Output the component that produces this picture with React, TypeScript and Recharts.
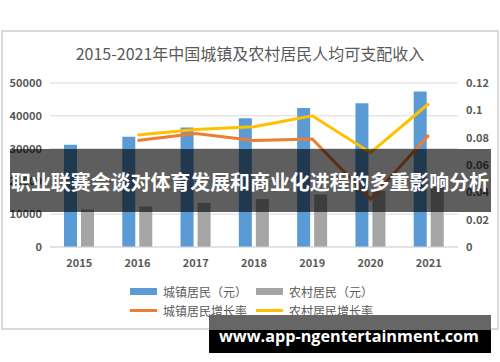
import {
    ComposedChart,
    Bar,
    Line,
    XAxis,
    YAxis,
    CartesianGrid,
} from "recharts";

const years = ["2015", "2016", "2017", "2018", "2019", "2020", "2021"];
const urbanIncome = [31195, 33616, 36396, 39251, 42359, 43834, 47412];
const ruralIncome = [11422, 12363, 13432, 14617, 16021, 17131, 18931];
const urbanGrowth = [null, 0.078, 0.083, 0.078, 0.079, 0.035, 0.082];
const ruralGrowth = [null, 0.082, 0.086, 0.088, 0.096, 0.069, 0.105];
const incomeTicks = [0, 10000, 20000, 30000, 40000, 50000];
const rateTicks = [0, 0.02, 0.04, 0.06, 0.08, 0.1, 0.12];

const data = years.map((year, i) => ({
    year,
    urban: urbanIncome[i],
    rural: ruralIncome[i],
    urbanRate: urbanGrowth[i],
    ruralRate: ruralGrowth[i],
}));

const FONT = '"Noto Sans CJK SC", "Noto Sans", sans-serif';
const tickStyle = { fontSize: 11, fill: "#595959", fontFamily: FONT, fontWeight: 600 };

const legendItems = [
    { label: "城镇居民（元）", color: "#5B9BD5", kind: "box", x: 130, y: 291 },
    { label: "农村居民（元）", color: "#A5A5A5", kind: "box", x: 256, y: 291 },
    { label: "城镇居民增长率", color: "#ED7D31", kind: "line", x: 130, y: 310 },
    { label: "农村居民增长率", color: "#FFC000", kind: "line", x: 256, y: 310 },
];

const App = () => {
    return (
        <div
            style={{
                position: "absolute",
                left: 0,
                top: 0,
                width: 500,
                height: 362,
                background: "#fff",
                fontFamily: FONT,
                overflow: "hidden",
            }}
        >
            {/* chart frame */}
            <div
                style={{
                    position: "absolute",
                    left: 1,
                    top: 30,
                    width: 494,
                    height: 296,
                    border: "2px solid #d9d9d9",
                }}
            />

            <div
                style={{
                    position: "absolute",
                    left: 0,
                    top: 42,
                    width: 500,
                    textAlign: "center",
                    fontSize: 16,
                    color: "#595959",
                    lineHeight: "22px",
                }}
            >
                2015-2021年中国城镇及农村居民人均可支配收入
            </div>

            <div style={{ position: "absolute", left: 0, top: 0 }}>
                <ComposedChart
                    width={500}
                    height={362}
                    data={data}
                    margin={{ top: 83, right: 0, bottom: 85, left: 0 }}
                    barSize={13}
                    barGap={4}
                >
                    <CartesianGrid vertical={false} stroke="#d9d9d9" yAxisId="left" />
                    <XAxis
                        dataKey="year"
                        height={30}
                        tickLine={false}
                        axisLine={{ stroke: "#d9d9d9" }}
                        tick={tickStyle}
                        tickMargin={6}
                    />
                    <YAxis
                        yAxisId="left"
                        width={50}
                        domain={[0, 50000]}
                        ticks={incomeTicks}
                        tickLine={false}
                        axisLine={false}
                        tick={tickStyle}
                    />
                    <YAxis
                        yAxisId="right"
                        orientation="right"
                        width={42}
                        domain={[0, 0.12]}
                        ticks={rateTicks}
                        tickFormatter={(v) => String(v)}
                        tickLine={false}
                        axisLine={false}
                        tick={{ ...tickStyle, textAnchor: "start" }}
                    />
                    <Bar yAxisId="left" dataKey="urban" fill="#5B9BD5" isAnimationActive={false} />
                    <Bar yAxisId="left" dataKey="rural" fill="#A5A5A5" isAnimationActive={false} />
                    <Line
                        yAxisId="right"
                        dataKey="urbanRate"
                        stroke="#ED7D31"
                        strokeWidth={3}
                        dot={false}
                        type="linear"
                        isAnimationActive={false}
                    />
                    <Line
                        yAxisId="right"
                        dataKey="ruralRate"
                        stroke="#FFC000"
                        strokeWidth={3}
                        dot={false}
                        type="linear"
                        isAnimationActive={false}
                    />
                </ComposedChart>
            </div>

            {legendItems.map((item) => (
                <div
                    key={item.label}
                    style={{
                        position: "absolute",
                        left: item.x,
                        top: item.y - 9,
                        height: 18,
                        display: "flex",
                        alignItems: "center",
                        fontSize: 12,
                        color: "#595959",
                        whiteSpace: "nowrap",
                    }}
                >
                    <span
                        style={{
                            display: "inline-block",
                            width: 27,
                            height: item.kind === "box" ? 7 : 3,
                            background: item.color,
                            marginRight: 6,
                        }}
                    />
                    {item.label}
                </div>
            ))}

            {/* overlays on top of the picture */}
            <svg
                width={500}
                height={362}
                style={{ position: "absolute", left: 0, top: 0, pointerEvents: "none" }}
            >
                <rect x={10} y={149} width={481} height={63} fill="rgba(0,0,0,0.63)" />
                <text
                    x={250}
                    y={190}
                    textAnchor="middle"
                    fill="#fff"
                    fontSize={20}
                    fontWeight={700}
                    fontFamily={FONT}
                    textLength={478}
                    lengthAdjust="spacingAndGlyphs"
                >
                    职业联赛会谈对体育发展和商业化进程的多重影响分析
                </text>
                <rect x={209} y={315} width={282} height={15} fill="#666" />
                <rect x={209} y={330} width={282} height={23} fill="#000" />
                <text
                    x={349}
                    y={342}
                    textAnchor="middle"
                    fill="#fff"
                    fontSize={16}
                    fontWeight={700}
                    fontFamily='"Open Sans", sans-serif'
                    textLength={260}
                    lengthAdjust="spacingAndGlyphs"
                >
                    www.app-ngentertainment.com
                </text>
            </svg>
        </div>
    );
};

export default App;
